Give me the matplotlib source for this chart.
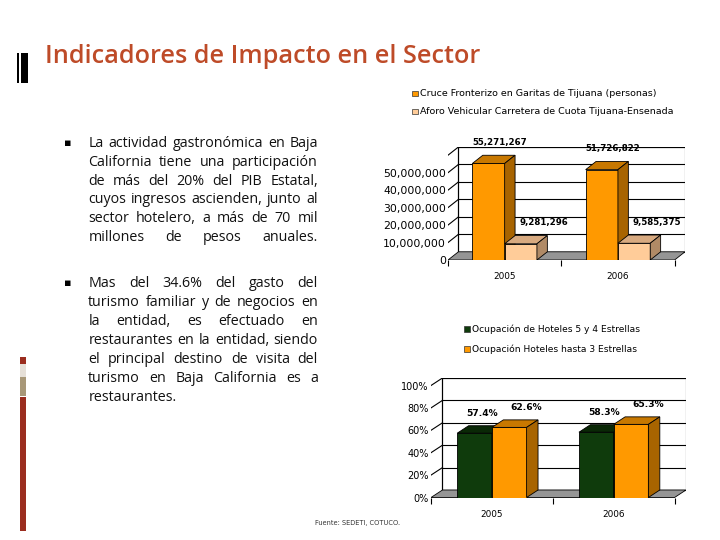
import matplotlib.pyplot as plt
from matplotlib.patches import Rectangle, Polygon

plt.rcParams['font.family'] = 'DejaVu Sans'

W, H = 720, 540   # figure size in pixels

# ---- data ----
title = "Indicadores de Impacto en el Sector"
years = ["2005", "2006"]

cruce = [55271267, 51726822]      # Cruce Fronterizo en Garitas de Tijuana
aforo = [9281296, 9585375]        # Aforo Vehicular Carretera de Cuota
names1 = ["Cruce Fronterizo en Garitas de Tijuana (personas)",
          "Aforo Vehicular Carretera de Cuota Tijuana-Ensenada"]
ticks1 = [0, 10e6, 20e6, 30e6, 40e6, 50e6, 60e6]
ticklab1 = ["0", "10,000,000", "20,000,000", "30,000,000", "40,000,000", "50,000,000", ""]

hot54 = [57.4, 58.3]              # Ocupacion hoteles 5 y 4 estrellas
hot3 = [62.6, 65.3]               # Ocupacion hoteles hasta 3 estrellas
names2 = ["Ocupación de Hoteles 5 y 4 Estrellas",
          "Ocupación Hoteles hasta 3 Estrellas"]
ticks2 = [0, 20, 40, 60, 80, 100]
ticklab2 = ["0%", "20%", "40%", "60%", "80%", "100%"]

para1 = ["La actividad gastronómica en Baja",
         "California tiene una participación",
         "de más del 20% del PIB Estatal,",
         "cuyos ingresos ascienden, junto al",
         "sector hotelero, a más de 70 mil",
         "millones de pesos anuales."]
para2 = ["Mas del 34.6% del gasto del",
         "turismo familiar y de negocios en",
         "la entidad, es efectuado en",
         "restaurantes en la entidad, siendo",
         "el principal destino de visita del",
         "turismo en Baja California es a",
         "restaurantes."]

# colours (front, top, side)
orange = ("#FF9900", "#C87800", "#A86400")
peach = ("#FFCC99", "#D8AA80", "#B08A66")
green = ("#0F3B0C", "#0A2806", "#082005")


def fbox(l, t, r, b):
    return [l / W, 1 - b / H, (r - l) / W, (b - t) / H]


def bar3d(ax, x, w, h, dx, dy, cols):
    ax.add_patch(Rectangle((x, 0), w, h, fc=cols[0], ec="black", lw=0.6, zorder=5))
    ax.add_patch(Polygon([(x, h), (x + dx, h + dy), (x + w + dx, h + dy), (x + w, h)],
                         fc=cols[1], ec="black", lw=0.6, zorder=5))
    ax.add_patch(Polygon([(x + w, 0), (x + w + dx, dy), (x + w + dx, h + dy), (x + w, h)],
                         fc=cols[2], ec="black", lw=0.6, zorder=5))


def chart(ax, series, colors, ticks, ticklabels, dx, dy, fmt, lab_dx, lab_dy, fs, tfs):
    ymax = ticks[-1]
    ax.set_xlim(-0.5, 1.5 + dx)
    ax.set_ylim(0, ymax + dy)
    for s in ax.spines.values():
        s.set_visible(False)
    # back wall + grid
    ax.add_patch(Rectangle((-0.5 + dx, dy), 2, ymax, fc="white", ec="black", lw=0.8, zorder=1))
    for v in ticks[1:]:
        ax.plot([-0.5 + dx, 1.5 + dx], [v + dy, v + dy], color="black", lw=0.8, zorder=2)
        ax.plot([-0.5, -0.5 + dx], [v, v + dy], color="black", lw=0.8, zorder=2)
    ax.plot([-0.5 + dx, -0.5 + dx], [dy, ymax + dy], color="black", lw=0.8, zorder=2)
    # floor
    ax.add_patch(Polygon([(-0.5, 0), (1.5, 0), (1.5 + dx, dy), (-0.5 + dx, dy)],
                         fc="#959595", ec="black", lw=0.6, zorder=3))
    w = 0.285
    for i in range(len(years)):
        for j, (vals, cols) in enumerate(zip(series, colors)):
            x = i - w + j * w
            bar3d(ax, x, w, vals[i], dx, dy, cols)
            ax.text(x + w / 2 + lab_dx[j], vals[i] + lab_dy, fmt(vals[i]),
                    ha="center", va="center", fontsize=fs, fontweight="bold", zorder=8)
    ax.set_yticks(ticks)
    ax.set_yticklabels(ticklabels, fontsize=tfs)
    ax.tick_params(axis="y", length=0, pad=1.5)
    ax.set_xticks([0, 1])
    ax.set_xticklabels(years, fontsize=6.4)
    ax.set_xticks([-0.5, 0.5, 1.5], minor=True)
    ax.tick_params(axis="x", which="major", length=0, pad=9)
    ax.tick_params(axis="x", which="minor", length=4, width=0.8, direction="out")


fig = plt.figure(figsize=(W / 100, H / 100), dpi=100)
renderer = fig.canvas.get_renderer()

# decorations on the slide
fig.add_artist(Rectangle((16.7 / W, 1 - 83.3 / H), 2 / W, 30.6 / H, fc="black", ec="none",
                         transform=fig.transFigure))
fig.add_artist(Rectangle((20.7 / W, 1 - 83.3 / H), 7 / W, 30.6 / H, fc="black", ec="none",
                         transform=fig.transFigure))
for top, bot, c in [(356.7, 364.3, "#9B2D1F"), (364.3, 376.7, "#E6E0D8"),
                    (376.7, 395.7, "#A89878"), (396.7, 530.7, "#9B2D1F")]:
    fig.add_artist(Rectangle((20 / W, 1 - bot / H), 6 / W, (bot - top) / H, fc=c, ec="none",
                             transform=fig.transFigure))

# title, fitted to the width of the original
t = fig.text(45 / W, 1 - 63 / H, title, fontsize=16, family="Open Sans", fontweight="semibold",
             color="#BE4B28", va="baseline")
tw = t.get_window_extent(renderer).width
t.set_fontsize(16 * 437 / tw)

# body text, justified word by word
LEFT, RIGHT = 88.3, 318.0
body_fs = 10.3


def justify(line, y, size):
    words = line.split()
    while True:
        texts = [fig.text(0, 0, wd, fontsize=size, family="Open Sans", color="#111111",
                          va="baseline") for wd in words]
        widths = [tx.get_window_extent(renderer).width for tx in texts]
        gap = (RIGHT - LEFT - sum(widths)) / (len(words) - 1) if len(words) > 1 else 0
        if len(words) == 1 or gap >= 0.24 * size * 100 / 72:
            break
        for tx in texts:
            tx.remove()
        size *= 0.97
    x = LEFT
    for tx, wd in zip(texts, widths):
        tx.set_position((x / W, 1 - y / H))
        x += wd + gap


for k, line in enumerate(para1):
    justify(line, 143.3 + 4 + k * 18.7, body_fs)
for k, line in enumerate(para2):
    justify(line, 282.7 + 4 + k * 19.0, body_fs)
for yb in (143.3, 282.7):
    fig.text(68 / W, 1 - yb / H, "\u25AA", fontsize=8, ha="center", va="center", color="black")

# chart 1
ax1 = fig.add_axes(fbox(448, 147, 685, 260))
chart(ax1, [cruce, aforo], [orange, peach], ticks1, ticklab1,
      0.092, 4.7e6, lambda v: f"{v:,}", [0.1, 0.2], 12e6, 6.2, 7.8)
for k, (nm, c) in enumerate(zip(names1, [orange, peach])):
    y = 93.3 + k * 18.4
    fig.add_artist(Rectangle((412 / W, 1 - (y + 2.7) / H), 5.5 / W, 5.5 / H, fc=c[0], ec="#333333",
                             lw=0.5, transform=fig.transFigure))
    fig.text(420.5 / W, 1 - y / H, nm, fontsize=6.8, va="center")

# chart 2
ax2 = fig.add_axes(fbox(431, 378, 686, 497.5))
chart(ax2, [hot54, hot3], [green, orange], ticks2, ticklab2,
      0.094, 6.7, lambda v: f"{v}%", [0.06, 0.14], 18, 6.6, 7.0)
for k, (nm, c) in enumerate(zip(names2, [green, orange])):
    y = 329 + k * 20
    fig.add_artist(Rectangle((464 / W, 1 - (y + 2.7) / H), 5.5 / W, 5.5 / H, fc=c[0], ec="#333333",
                             lw=0.5, transform=fig.transFigure))
    fig.text(472 / W, 1 - y / H, nm, fontsize=6.6, va="center")

fig.text(315 / W, 1 - 523 / H, "Fuente: SEDETI, COTUCO.", fontsize=4.8, va="center", color="#333333")

fig.savefig("out.png", dpi=100)
